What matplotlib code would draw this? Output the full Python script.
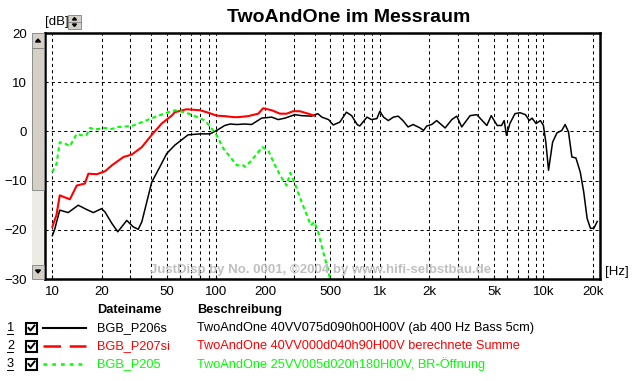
import numpy as np
import matplotlib
matplotlib.use('Agg')
import matplotlib.pyplot as plt
from matplotlib.patches import Rectangle, Polygon
from matplotlib.lines import Line2D

W, H = 632, 381

# curves: frequency [Hz], level [dB]
black_f = [10, 10.3, 11.1, 12.5, 14.4, 15.8, 17.8, 20, 21, 23.1, 25.1, 28.5, 31.2, 33.5,
           35.2, 40.5, 45.4, 50, 56, 67.5, 80, 92, 101, 113, 122, 134, 150, 165, 190,
           219, 240, 264, 303, 333, 383, 419, 443, 487, 520, 571, 626, 674, 728, 755,
           836, 890, 961, 1003, 1055, 1128, 1212, 1296, 1387, 1490, 1600, 1765, 1852,
           1939, 2077, 2228, 2510, 2757, 2955, 3170, 3565, 3917, 4513, 4800, 5220,
           5550, 5760, 5950, 6240, 6700, 7190, 7770, 8200, 8520, 9020, 9590, 10000,
           10350, 10750, 11380, 12100, 12960, 13580, 14230, 14930, 15800, 16800,
           17630, 18500, 19390, 20330, 21330]
black_db = [-21.2, -20.1, -16.0, -16.5, -15.0, -15.7, -16.5, -15.7, -16.4, -18.7, -20.4,
            -18.1, -19.4, -19.9, -18.4, -10.3, -7.2, -4.5, -2.8, -0.7, -0.5, -0.5, 0.2,
            1.2, 1.5, 1.4, 1.5, 1.4, 2.7, 2.9, 2.4, 2.7, 3.4, 3.2, 3.1, 3.6, 2.9, 2.4,
            1.3, 1.9, 3.9, 3.2, 1.4, 1.1, 2.9, 2.4, 2.6, 4.1, 2.9, 2.2, 2.9, 3.1, 2.2,
            0.9, 1.4, 0.7, 0.2, 1.1, 1.4, 2.2, 0.7, 2.4, 3.1, 0.9, 3.2, 3.4, 1.2, 3.2,
            1.2, 1.2, 2.2, -0.8, 1.6, 3.6, 3.8, 3.4, 2.2, 2.7, 1.6, 2.2, 1.2, -2.2,
            -7.9, -2.2, -0.3, 0.2, 1.4, -0.1, -5.2, -5.4, -8.3, -12.3, -17.7, -19.7,
            -19.7, -18.3]

red_f = [10, 10.6, 11.1, 12.8, 14.1, 15.8, 16.6, 18.7, 21, 23.1, 27.2, 30.6, 35.2, 40.5,
         46.6, 53.6, 56, 66, 80, 89.7, 101, 113, 128, 137, 157, 181, 194, 219, 246, 270,
         296, 325, 366, 398]
red_db = [-19.4, -17.0, -13.0, -13.8, -11.0, -10.6, -8.6, -8.7, -8.1, -6.9, -5.2, -4.7,
          -3.2, -0.7, 1.6, 3.2, 3.9, 4.5, 4.3, 3.8, 3.2, 3.1, 2.9, 2.9, 3.1, 3.6, 4.7,
          4.3, 3.6, 3.6, 4.1, 4.1, 3.6, 3.2]

green_f = [10, 10.6, 11.1, 12, 12.8, 14.1, 15.1, 16.2, 17, 18.3, 21, 23.1, 25.3, 30.6,
           33.5, 38.6, 44.5, 51.1, 56, 64.5, 74.5, 85.7, 94.3, 101, 111, 122, 134, 147,
           150, 165, 181, 192, 209, 224, 246, 270, 284, 303, 333, 380, 398, 421, 451,
           488, 500]
green_db = [-8.3, -6.6, -2.2, -2.5, -3.0, -0.5, -0.8, -0.7, 0.7, 0.4, 0.7, 0.5, 0.9, 1.1,
            1.6, 2.4, 3.2, 3.9, 4.3, 3.9, 3.1, 2.2, 0.5, -0.8, -3.5, -5.2, -6.9, -6.9,
            -7.2, -5.9, -4.2, -3.2, -3.9, -6.2, -8.9, -11.0, -8.4, -10.6, -14.3, -19.1,
            -18.4, -20.4, -24.5, -28.5, -31.0]

x_ticks = [10, 20, 50, 100, 200, 500, 1000, 2000, 5000, 10000, 20000]
x_labels = ['10', '20', '50', '100', '200', '500', '1k', '2k', '5k', '10k', '20k']
y_ticks = [-30, -20, -10, 0, 10, 20]

legend_nums = ['1', '2', '3']
legend_files = ['BGB_P206s', 'BGB_P207si', 'BGB_P205']
legend_desc = ['TwoAndOne 40VV075d090h00H00V (ab 400 Hz Bass 5cm)',
               'TwoAndOne 40VV000d040h90H00V berechnete Summe',
               'TwoAndOne 25VV005d020h180H00V, BR-\u00d6ffnung']
colors = ['#000000', '#ff0000', '#00ff00']


def fx(x):
    return x / W


def fy(y):
    return 1 - y / H


def main():
    plt.rcParams['font.family'] = ['Liberation Sans', 'DejaVu Sans']
    fig = plt.figure(figsize=(W / 100, H / 100), dpi=100, facecolor='white')
    ax = fig.add_axes([fx(45), fy(279), fx(555), 246 / H])

    ax.plot(black_f, black_db, color=colors[0], lw=1.1)
    ax.plot(red_f, red_db, color=colors[1], lw=1.5)
    ax.plot(green_f, green_db, color=colors[2], lw=1.5, dashes=(2, 1.5))

    ax.set_xscale('log')
    minor = [m * 10 ** d for d in range(1, 5) for m in range(1, 10)]
    minor = [v for v in minor if v not in x_ticks and v <= 20000]
    ax.set_xticks(x_ticks, x_labels)
    ax.set_xticks(minor, minor=True)
    ax.set_xticklabels([], minor=True)
    ax.set_yticks(y_ticks)
    ax.set_xlim(9.02, 22170)
    ax.set_ylim(-30, 20)
    ax.tick_params(axis='x', which='both', direction='in', length=3, width=0.8,
                   labelsize=9.5, pad=5)
    ax.tick_params(axis='y', length=0, labelsize=9.5, pad=13)
    ax.grid(True, which='both', color='black', lw=0.75, dashes=(3, 3))
    ax.set_axisbelow(True)
    for sp in ax.spines.values():
        sp.set_linewidth(1.8)
        sp.set_color('black')

    # title, units, watermark
    fig.text(fx(349), fy(17), 'TwoAndOne im Messraum', ha='center', va='center',
             fontsize=14, fontweight='bold')
    fig.text(fx(45), fy(22), '[dB]', ha='left', va='center', fontsize=9.5)
    fig.text(fx(605), fy(272), '[Hz]', ha='left', va='center', fontsize=9.5)
    fig.text(fx(321), fy(270), 'JustDisp by No. 0001, \u00a92004 by www.hifi-selbstbau.de',
             ha='center', va='center', fontsize=9.5, fontweight='bold', color='#c0c0c0')

    # small spinner next to [dB]
    fig.patches.append(Rectangle((fx(68), fy(29)), fx(13), 14 / H, transform=fig.transFigure,
                                 facecolor='#d4d0c8', edgecolor='#808080', lw=0.6))
    fig.lines.append(Line2D([fx(68), fx(81)], [fy(22), fy(22)], transform=fig.transFigure,
                            color='#808080', lw=0.6))
    fig.patches.append(Polygon([(fx(72.5), fy(20)), (fx(76.5), fy(20)), (fx(74.5), fy(17.5))],
                               closed=True, transform=fig.transFigure, color='black'))
    fig.patches.append(Polygon([(fx(72.5), fy(24)), (fx(76.5), fy(24)), (fx(74.5), fy(26.5))],
                               closed=True, transform=fig.transFigure, color='black'))

    # vertical scrollbar left of the plot
    fig.patches.append(Rectangle((fx(32), fy(279)), fx(12), 246 / H, transform=fig.transFigure,
                                 facecolor='#ecebe6', edgecolor='none'))
    for y0, y1 in [(33, 48), (48, 190), (265, 279)]:
        fig.patches.append(Rectangle((fx(32), fy(y1)), fx(12), (y1 - y0) / H,
                                     transform=fig.transFigure, facecolor='#d4d0c8',
                                     edgecolor='#808080', lw=0.6))
    fig.patches.append(Polygon([(fx(35.5), fy(42)), (fx(40.5), fy(42)), (fx(38), fy(39))],
                               closed=True, transform=fig.transFigure, color='black'))
    fig.patches.append(Polygon([(fx(35.5), fy(270)), (fx(40.5), fy(270)), (fx(38), fy(273))],
                               closed=True, transform=fig.transFigure, color='black'))

    # legend table
    fig.text(fx(97), fy(310), 'Dateiname', ha='left', va='center', fontsize=9.2,
             fontweight='bold')
    fig.text(fx(197), fy(310), 'Beschreibung', ha='left', va='center', fontsize=9.2,
             fontweight='bold')
    line_styles = [dict(), dict(dashes=(7, 3.5)), dict(dashes=(1.5, 2))]
    widths = [1.5, 1.8, 1.8]
    for i in range(3):
        y = 328 + 18 * i
        fig.text(fx(7), fy(y), legend_nums[i], ha='left', va='center', fontsize=9.2)
        fig.lines.append(Line2D([fx(7), fx(13)], [fy(y + 6), fy(y + 6)],
                                transform=fig.transFigure, color='black', lw=0.7))
        fig.patches.append(Rectangle((fx(26), fy(y + 5.5)), fx(11), 11 / H,
                                     transform=fig.transFigure, facecolor='white',
                                     edgecolor='black', lw=1.5))
        fig.lines.append(Line2D([fx(28.5), fx(30.5), fx(34.5)], [fy(y), fy(y + 2.5), fy(y - 2.5)],
                                transform=fig.transFigure, color='black', lw=1.4))
        fig.lines.append(Line2D([fx(43), fx(86)], [fy(y), fy(y)], transform=fig.transFigure,
                                color=colors[i], lw=widths[i], **line_styles[i]))
        fig.text(fx(97), fy(y), legend_files[i], ha='left', va='center', fontsize=9.2,
                 color=colors[i])
        fig.text(fx(197), fy(y), legend_desc[i], ha='left', va='center', fontsize=9.2,
                 color=colors[i])

    fig.savefig('out.png', dpi=100, facecolor='white')


if __name__ == '__main__':
    main()
